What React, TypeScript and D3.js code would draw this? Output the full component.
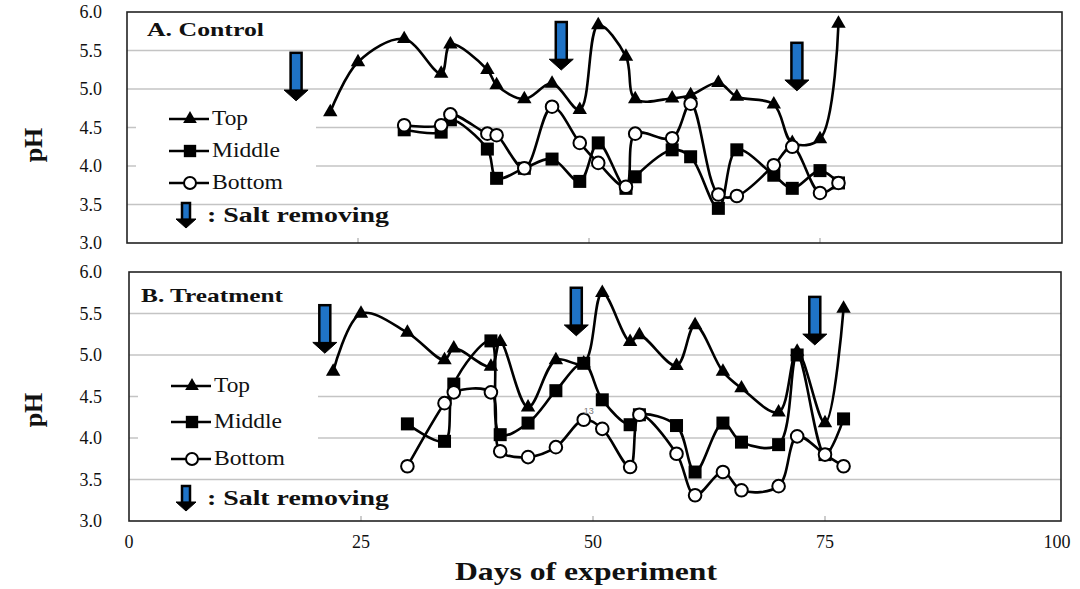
import React from "react";
import * as d3 from "d3";

// days of sampling
const topDays = [22, 25, 30, 34, 35, 39, 40, 43, 46, 49, 51, 54, 55, 59, 61, 64, 66, 70, 72, 75, 77];
const layerDays = [30, 34, 35, 39, 40, 43, 46, 49, 51, 54, 55, 59, 61, 64, 66, 70, 72, 75, 77];

// A. Control
const controlTop = [4.7, 5.35, 5.65, 5.2, 5.58, 5.25, 5.05, 4.87, 5.07, 4.73, 5.83, 5.42, 4.87, 4.88, 4.92, 5.08, 4.9, 4.8, 4.3, 4.35, 5.85];
const controlMiddle = [4.47, 4.44, 4.6, 4.22, 3.84, 3.97, 4.09, 3.8, 4.3, 3.71, 3.86, 4.21, 4.12, 3.45, 4.21, 3.88, 3.71, 3.94, 3.78];
const controlBottom = [4.53, 4.53, 4.67, 4.42, 4.4, 3.97, 4.77, 4.3, 4.04, 3.73, 4.42, 4.36, 4.81, 3.63, 3.61, 4.01, 4.25, 3.65, 3.78];
const controlArrowDays = [18.3, 47, 72.5];
const controlArrowTops = [5.47, 5.87, 5.6];

// B. Treatment
const treatTop = [4.8, 5.5, 5.27, 4.94, 5.08, 4.86, 5.16, 4.37, 4.94, 4.9, 5.75, 5.16, 5.24, 4.87, 5.36, 4.8, 4.6, 4.31, 5.04, 4.18, 5.56];
const treatMiddle = [4.17, 3.96, 4.65, 5.17, 4.04, 4.18, 4.57, 4.9, 4.46, 4.16, 4.28, 4.15, 3.59, 4.18, 3.95, 3.92, 5.0, 3.8, 4.23];
const treatBottom = [3.66, 4.42, 4.55, 4.55, 3.84, 3.77, 3.89, 4.22, 4.11, 3.65, 4.28, 3.81, 3.31, 3.59, 3.37, 3.42, 4.02, 3.8, 3.66];
const treatArrowDays = [21.1, 48.2, 73.9];
const treatArrowTops = [5.6, 5.81, 5.7];

const phTicks = [3.0, 3.5, 4.0, 4.5, 5.0, 5.5, 6.0];
const dayTicks = [0, 25, 50, 75, 100];
const seriesNames = ["Top", "Middle", "Bottom"];
const legendWidths = [36, 68, 71];

const FONT = "Liberation Serif";
const BLUE = "#1f73c6";
const fmt = d3.format(".1f");

function Marker({ kind, x, y, s = 1 }: any) {
  if (kind === "Top") {
    const p = d3.symbol(d3.symbolTriangle, 90 * s * s)();
    return <path d={p!} transform={`translate(${x},${y})`} fill="black" />;
  }
  if (kind === "Middle") {
    return <rect x={x - 6.5 * s} y={y - 6.5 * s} width={13 * s} height={13 * s} fill="black" />;
  }
  return <circle cx={x} cy={y} r={6.3 * s} fill="white" stroke="black" strokeWidth={2} />;
}

function Arrow({ cx, top, h, w, shaft }: any) {
  const head = w * 0.45;
  return (
    <g>
      <rect x={cx - shaft / 2} y={top} width={shaft} height={h - head + 1} fill={BLUE} stroke="black" strokeWidth={2.5} />
      <path d={`M${cx - w / 2},${top + h - head} L${cx + w / 2},${top + h - head} L${cx},${top + h} Z`} fill="black" stroke="black" strokeWidth={1} strokeLinejoin="round" />
    </g>
  );
}

function Panel(props: any) {
  const c = props.cfg;
  const x = d3.scaleLinear().domain([0, 100]).range([c.x0, c.x100]);
  const y = d3.scaleLinear().domain([3, 6]).range([c.bottom, c.top]);
  const line = d3
    .line<[number, number]>()
    .x(d => x(d[0]))
    .y(d => y(d[1]))
    .curve(d3.curveCatmullRom.alpha(0.5));

  const series = [
    { name: "Top", pts: topDays.map((d, i) => [d, props.top[i]] as [number, number]) },
    { name: "Middle", pts: layerDays.map((d, i) => [d, props.middle[i]] as [number, number]) },
    { name: "Bottom", pts: layerDays.map((d, i) => [d, props.bottom[i]] as [number, number]) },
  ];

  return (
    <g>
      {phTicks.slice(1, -1).map(t => (
        <line key={t} x1={c.x0} x2={c.right} y1={y(t)} y2={y(t)} stroke="#c4c4c4" strokeWidth={1.5} />
      ))}
      <rect x={c.legX - 54} y={c.legBoxTop} width={180} height={c.legBoxH} fill="white" />
      {dayTicks.slice(1, -1).map(t => (
        <line key={t} x1={x(t)} x2={x(t)} y1={c.bottom} y2={c.bottom - 5} stroke="#999" strokeWidth={1} />
      ))}
      <rect x={c.x0} y={c.top} width={c.right - c.x0} height={c.bottom - c.top} fill="none" stroke="#222" strokeWidth={1.6} />
      {phTicks.map(t => (
        <text key={t} x={102} y={y(t) + 6} textAnchor="end" fontFamily={FONT} fontSize={18} fill="#111">
          {fmt(t)}
        </text>
      ))}
      <text transform={`translate(${c.phX},${c.phY}) rotate(-90)`} textAnchor="middle" fontFamily={FONT} fontWeight="bold" fontSize={26} fill="#111">
        pH
      </text>
      <text x={c.titleX} y={c.titleY} fontFamily={FONT} fontWeight="bold" fontSize={19} textLength={c.titleW} lengthAdjust="spacingAndGlyphs" fill="#111">
        {props.title}
      </text>

      {series.map(s => (
        <path key={s.name} d={line(s.pts)!} fill="none" stroke="black" strokeWidth={2.6} />
      ))}
      {series.map(s =>
        s.pts.map((p, i) => <Marker key={s.name + i} kind={s.name} x={x(p[0])} y={y(p[1])} />)
      )}

      {props.arrowDays.map((d: number, i: number) => (
        <Arrow key={i} cx={x(d)} top={y(props.arrowTops[i])} h={48} w={24} shaft={11} />
      ))}

      {seriesNames.map((n, i) => (
        <g key={n}>
          <line x1={c.legX - 21} x2={c.legX + 19} y1={c.legY[i]} y2={c.legY[i]} stroke="black" strokeWidth={2.4} />
          <Marker kind={n} x={c.legX} y={c.legY[i]} s={0.95} />
          <text x={c.legX + 22} y={c.legY[i] + 6} fontFamily={FONT} fontSize={20} textLength={legendWidths[i]} lengthAdjust="spacingAndGlyphs" fill="#111">
            {n}
          </text>
        </g>
      ))}
      <Arrow cx={186} top={c.saltY - 13} h={25} w={20} shaft={8} />
      <text x={207} y={c.saltY + 6} fontFamily={FONT} fontWeight="bold" fontSize={20} textLength={182} lengthAdjust="spacingAndGlyphs" fill="#111">
        : Salt removing
      </text>
    </g>
  );
}

const controlCfg = {
  top: 12, bottom: 243, x0: 127, x100: 1051, right: 1062,
  legX: 190, legY: [119, 151, 183], legBoxTop: 96, legBoxH: 104,
  saltY: 216, phX: 42, phY: 145, titleX: 147, titleY: 36, titleW: 117,
};
const treatCfg = {
  top: 272, bottom: 521, x0: 129, x100: 1057, right: 1061,
  legX: 192, legY: [386, 422, 459], legBoxTop: 363, legBoxH: 112,
  saltY: 499, phX: 42, phY: 410, titleX: 141, titleY: 302, titleW: 142,
};

export default function App() {
  const xb = d3.scaleLinear().domain([0, 100]).range([treatCfg.x0, treatCfg.x100]);
  return (
    <svg width={1080} height={589} style={{ position: "absolute", left: 0, top: 0, background: "white" }}>
      <Panel cfg={controlCfg} title="A. Control" top={controlTop} middle={controlMiddle} bottom={controlBottom}
        arrowDays={controlArrowDays} arrowTops={controlArrowTops} />
      <Panel cfg={treatCfg} title="B. Treatment" top={treatTop} middle={treatMiddle} bottom={treatBottom}
        arrowDays={treatArrowDays} arrowTops={treatArrowTops} />
      <text x={xb(49)} y={414} fontFamily="Arial, sans-serif" fontSize={9} fill="#777">13</text>
      {dayTicks.map(t => (
        <text key={t} x={xb(t)} y={548} textAnchor="middle" fontFamily={FONT} fontSize={18} fill="#111">
          {t}
        </text>
      ))}
      <text x={586} y={580} textAnchor="middle" fontFamily={FONT} fontWeight="bold" fontSize={25} textLength={262} lengthAdjust="spacingAndGlyphs" fill="#111">
        Days of experiment
      </text>
    </svg>
  );
}
